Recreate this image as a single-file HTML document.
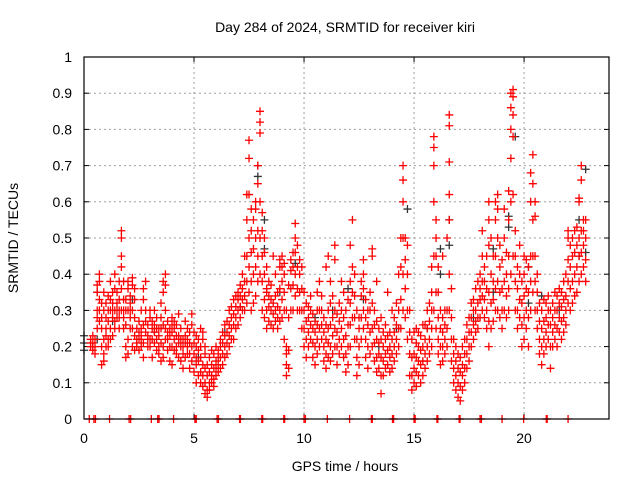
<!DOCTYPE html>
<html><head><meta charset="utf-8"><style>
body{margin:0;background:#fff;}
svg{display:block;font-family:"Liberation Sans",sans-serif;}
</style></head><body>
<svg id="chart" width="640" height="480">
<rect x="0" y="0" width="640" height="480" fill="#fff"/>
<text x="345" y="32" font-size="14" text-anchor="middle">Day 284 of 2024, SRMTID for receiver kiri</text>
<text x="345" y="471" font-size="14" text-anchor="middle">GPS time / hours</text>
<text transform="translate(18,238) rotate(-90)" font-size="14" text-anchor="middle">SRMTID / TECUs</text>
<g id="grid"></g>
<g id="ticks"></g>
<g id="black"></g>
<g id="red"></g>
<rect x="84" y="57" width="525" height="362" fill="none" stroke="#000" stroke-width="1.2"/>
</svg>
<script>
const xTicks=[0,5,10,15,20];
const yTicks=[0,0.1,0.2,0.3,0.4,0.5,0.6,0.7,0.8,0.9,1];
const yTickLabels=["0","0.1","0.2","0.3","0.4","0.5","0.6","0.7","0.8","0.9","1"];
const zeroTimes=[0.24,0.45,0.52,1.16,2.05,2.12,3.06,3.35,3.41,4.07,5.04,5.1,6.05,6.11,7.07,7.11,8.08,8.12,9.08,9.12,10.0,10.06,11.06,12.07,13.06,13.1,14.02,14.07,15.0,15.05,16.04,16.08,17.05,17.09,18.0,18.06,19.0,19.98,21.01,21.05,22.0];
const redCols=[
[0.3,.2,.21,.22],[0.4,.19,.21,.23,.2],[0.5,.18,.22,.2],[0.6,.25,.3,.37,.35,.28],[0.7,.3,.38,.4,.33,.27],[0.8,.15,.2,.25,.28,.32],[0.9,.16,.22,.3,.35,.18],[1.0,.2,.25,.32,.28,.23],[1.1,.22,.3,.34,.27,.2],[1.2,.25,.3,.33,.38,.22],[1.3,.23,.28,.32,.35,.3],[1.4,.27,.3,.36,.4,.25],[1.5,.28,.32,.35,.3],[1.6,.25,.3,.33,.28,.38],[1.7,.42,.45,.5,.52,.36,.3],[1.8,.3,.33,.28,.25,.38],[1.9,.17,.2,.26,.33,.3],[2.0,.18,.22,.3,.36,.38],[2.1,.25,.3,.32,.34,.28],[2.2,.2,.25,.37,.39,.3],[2.3,.19,.23,.28,.33,.36],[2.4,.2,.22,.25,.21],[2.5,.19,.22,.24,.27],[2.6,.2,.23,.25,.3,.22],[2.7,.17,.21,.26,.33,.36],[2.8,.24,.27,.3,.38],[2.9,.2,.23,.26,.22],[3.0,.2,.22,.28,.3],[3.1,.17,.22,.25,.27],[3.2,.21,.24,.26,.3],[3.3,.19,.22,.25,.28],[3.4,.18,.23,.25,.2],[3.5,.16,.21,.25,.28,.32],[3.6,.17,.2,.26,.35,.38],[3.7,.22,.25,.3,.4,.37],[3.8,.19,.22,.24,.27],[3.9,.16,.2,.23,.25],[4.0,.15,.2,.24,.26,.28],[4.1,.19,.22,.25,.27],[4.2,.2,.23,.26,.18],[4.3,.17,.21,.23,.29],[4.4,.16,.2,.22,.25],[4.5,.14,.18,.22,.2],[4.6,.17,.21,.23,.27],[4.7,.18,.22,.25,.2],[4.8,.14,.18,.21,.24],[4.9,.16,.2,.26,.29],
[5.0,.13,.18,.21,.24],[5.1,.1,.15,.2,.23,.17],[5.2,.12,.16,.19,.22],[5.3,.1,.13,.17,.2,.25],[5.4,.09,.12,.15,.22,.24],[5.5,.07,.1,.14,.18,.2],[5.6,.06,.08,.12,.15],[5.7,.08,.1,.13,.17],[5.8,.1,.12,.15,.19],[5.9,.09,.11,.14,.18],[6.0,.12,.14,.16,.2],[6.1,.13,.15,.17,.19],[6.2,.14,.17,.2,.22],[6.3,.15,.18,.21,.24],[6.4,.17,.2,.23,.26],[6.5,.18,.21,.24,.27],[6.6,.2,.23,.26,.3],[6.7,.22,.25,.28,.31],[6.8,.22,.26,.29,.33],[6.9,.25,.28,.31,.34],[7.0,.26,.3,.33,.35],[7.1,.28,.31,.34,.37],[7.2,.3,.33,.36,.4],[7.3,.3,.34,.38,.45],[7.4,.32,.38,.45,.55,.62],[7.5,.35,.42,.5,.62,.72,.77],[7.6,.3,.38,.46,.52,.58],[7.7,.32,.4,.47,.55],[7.8,.34,.42,.5,.58,.6],[7.9,.38,.45,.52,.65,.7],[8.0,.4,.5,.6,.79,.82,.85],[8.1,.3,.38,.45,.52,.57],[8.2,.28,.33,.4,.46,.5],[8.3,.25,.3,.35,.42,.36],[8.4,.27,.31,.34,.38],[8.5,.26,.3,.33,.37],[8.6,.25,.29,.32,.45],[8.7,.27,.3,.34,.4],[8.8,.25,.28,.31,.35],[8.9,.27,.3,.36,.42,.44],[9.0,.28,.33,.38,.42,.45],[9.1,.22,.3,.35,.4,.43],[9.2,.12,.15,.18,.2,.3],[9.3,.14,.19,.28,.37],[9.4,.3,.36,.41,.44],[9.5,.3,.37,.42,.46],[9.6,.34,.4,.46,.5,.54],[9.7,.3,.36,.42,.48],[9.8,.3,.35,.4,.44],[9.9,.25,.3,.36,.42],
[10.0,.2,.25,.3,.35],[10.1,.17,.22,.27,.32],[10.2,.2,.24,.28,.31],[10.3,.22,.26,.3,.34],[10.4,.17,.21,.25,.29],[10.5,.15,.2,.24,.27],[10.6,.18,.22,.26,.3,.35],[10.7,.2,.25,.3,.38],[10.8,.22,.26,.3,.34],[10.9,.16,.2,.24,.28],[11.0,.14,.18,.22,.26,.42],[11.1,.17,.21,.25,.3,.45],[11.2,.16,.2,.26,.32,.38],[11.3,.18,.23,.28,.34],[11.4,.2,.25,.3,.44,.48],[11.5,.15,.2,.24,.29],[11.6,.18,.22,.27,.32],[11.7,.2,.25,.3,.38],[11.8,.17,.22,.28,.35],[11.9,.13,.18,.23,.3],[12.0,.15,.2,.26,.33],[12.1,.2,.26,.32,.38,.48],[12.2,.28,.35,.42,.55],[12.3,.22,.28,.34,.4],[12.4,.12,.17,.22,.3],[12.5,.15,.2,.25,.28],[12.6,.22,.28,.34,.38],[12.7,.25,.3,.36,.4,.44],[12.8,.17,.22,.28,.33],[12.9,.14,.2,.26,.3],[13.0,.18,.24,.3,.35],[13.1,.2,.25,.32,.45,.47],[13.2,.16,.21,.26,.3],[13.3,.13,.17,.22,.27,.38],[13.4,.14,.18,.21,.25],[13.5,.07,.12,.17,.22,.28],[13.6,.12,.16,.2,.24],[13.7,.14,.18,.22,.26],[13.8,.15,.19,.23,.35],[13.9,.13,.17,.2,.24],[14.0,.14,.18,.22,.3],[14.1,.16,.2,.24,.28],[14.2,.18,.22,.26,.32],[14.3,.2,.25,.3,.4],[14.4,.25,.33,.42,.5],[14.5,.3,.4,.5,.6,.66,.7],[14.6,.28,.36,.44,.5],[14.7,.22,.3,.4,.48],[14.8,.12,.18,.24,.3],[14.9,.08,.12,.17,.22],
[15.0,.1,.14,.18,.24],[15.1,.09,.13,.17,.21,.25],[15.2,.12,.16,.2,.24],[15.3,.1,.15,.19,.23],[15.4,.12,.16,.2,.26],[15.5,.14,.18,.22,.26],[15.6,.16,.2,.25,.3],[15.7,.18,.22,.27,.32],[15.8,.2,.25,.3,.35,.42],[15.9,.3,.45,.6,.7,.75,.78],[16.0,.25,.35,.45,.5,.55],[16.1,.18,.22,.28,.35,.42],[16.2,.15,.2,.25,.3],[16.3,.16,.2,.24,.28,.45],[16.4,.18,.22,.26,.3],[16.5,.2,.25,.3,.5],[16.6,.3,.4,.55,.62,.71,.81,.84],[16.7,.16,.22,.28,.36],[16.8,.1,.14,.18,.22],[16.9,.08,.12,.16,.2],[17.0,.06,.1,.14,.18],[17.1,.05,.09,.13,.17],[17.2,.08,.12,.15,.2],[17.3,.1,.14,.18,.22],[17.4,.14,.18,.22,.26],[17.5,.16,.2,.24,.28],[17.6,.2,.24,.28,.32],[17.7,.22,.26,.3,.33],[17.8,.24,.27,.3,.36],[17.9,.25,.28,.32,.38],[18.0,.28,.33,.36,.4],[18.1,.3,.34,.38,.45,.52],[18.2,.28,.33,.38,.42],[18.3,.25,.3,.36,.45],[18.4,.2,.27,.35,.48,.55,.6],[18.5,.25,.32,.4,.5],[18.6,.27,.33,.38,.45],[18.7,.3,.36,.45,.55,.6],[18.8,.3,.38,.5,.58,.62],[18.9,.28,.35,.42,.48],[19.0,.25,.3,.36,.44],[19.1,.3,.38,.5,.58],[19.2,.28,.34,.4,.46],[19.3,.3,.36,.45,.55,.63],[19.4,.4,.6,.72,.8,.86,.9],[19.5,.45,.62,.78,.84,.89,.91],[19.6,.3,.38,.45,.52],[19.7,.25,.3,.36,.42],[19.8,.28,.33,.4,.48],[19.9,.2,.26,.32,.38],
[20.0,.22,.28,.34,.4,.45],[20.1,.25,.3,.36,.44],[20.2,.2,.28,.35,.42],[20.3,.3,.38,.45,.6,.68],[20.4,.35,.45,.55,.65,.73],[20.5,.3,.38,.45,.56,.6],[20.6,.25,.3,.35,.4],[20.7,.18,.22,.27,.32],[20.8,.15,.2,.25,.3],[20.9,.18,.22,.27,.33],[21.0,.2,.24,.28,.32],[21.1,.22,.26,.3,.34],[21.2,.14,.2,.26,.3],[21.3,.2,.24,.28,.32],[21.4,.22,.26,.3,.35],[21.5,.2,.25,.3,.34],[21.6,.24,.28,.32,.36],[21.7,.22,.27,.31,.35],[21.8,.24,.28,.33,.38],[21.9,.26,.3,.34,.4],[22.0,.32,.38,.44,.5,.52],[22.1,.3,.36,.42,.48],[22.2,.32,.38,.45,.5],[22.3,.34,.4,.46,.52],[22.4,.35,.42,.48,.53],[22.5,.38,.45,.5,.6,.61],[22.6,.4,.46,.52,.66,.7],[22.7,.42,.48,.52,.55],[22.8,.38,.44,.5,.55]
];
const blackCols=[
[0.0,.23,.19,.21],[0.6,.22,.35],[1.3,.27],[2.2,.33],[3.2,.24],[4.3,.22],[5.2,.17],[6.4,.24],[7.1,.31],[7.9,.7,.67],[8.2,.55,.47],[8.9,.35],[9.6,.43],[10.5,.28],[11.3,.3],[12.0,.36],[12.7,.33],[13.4,.2],[14.2,.25],[14.7,.58],[15.6,.25],[16.2,.4,.47],[16.6,.48,.55],[17.7,.28],[18.6,.35,.47],[19.3,.53,.56],[19.6,.78],[20.2,.42,.32],[20.8,.34],[21.6,.3],[22.5,.45,.55],[22.8,.46,.69]
];
const NS="http://www.w3.org/2000/svg";
const X0=84,X1=609,Y0=419,Y1=57,XMAX=23.86;
function xs(t){return X0+t*(X1-X0)/XMAX;}
function ys(v){return Y0-v*(Y0-Y1);}
function mk(tag,attrs,parent){const e=document.createElementNS(NS,tag);for(const k in attrs)e.setAttribute(k,attrs[k]);parent.appendChild(e);return e;}
const grid=document.getElementById('grid'),ticks=document.getElementById('ticks');
yTicks.forEach((v,i)=>{
  const y=ys(v);
  if(i>0&&i<yTicks.length-1){const g=mk('line',{x1:X0,x2:X1,y1:y,y2:y,stroke:'#a0a0a0','stroke-dasharray':'2,3'},grid);
  
  }
  mk('line',{x1:X0,x2:X0+5,y1:y,y2:y,stroke:'#000'},ticks);
  mk('line',{x1:X1-5,x2:X1,y1:y,y2:y,stroke:'#000'},ticks);
  const t=mk('text',{x:X0-12,y:y+5,'font-size':14,'text-anchor':'end'},ticks);
  t.textContent=yTickLabels[i];
  
  
});
xTicks.forEach(v=>{
  const x=xs(v);
  if(v>0){const g=mk('line',{x1:x,x2:x,y1:Y1,y2:Y0,stroke:'#a0a0a0','stroke-dasharray':'2,3'},grid);
  
  }
  mk('line',{x1:x,x2:x,y1:Y0,y2:Y0-5,stroke:'#000'},ticks);
  mk('line',{x1:x,x2:x,y1:Y1,y2:Y1+5,stroke:'#000'},ticks);
  const t=mk('text',{x:x,y:Y0+24,'font-size':14,'text-anchor':'middle'},ticks);
  t.textContent=String(v);
  
  
});
function plus(parent,t,v,color){
  const x=xs(t),y=ys(v);
  const p=mk('path',{d:`M${x-4},${y}H${x+4}M${x},${y-4}V${y+4}`,stroke:color,'stroke-width':1.3,fill:'none'},parent);
  
  
}
const bg=document.getElementById('black'),rg=document.getElementById('red');
blackCols.forEach(c=>{for(let i=1;i<c.length;i++)plus(bg,c[0],c[i],'#333');});
redCols.forEach(c=>{for(let i=1;i<c.length;i++)plus(rg,c[0],c[i],'#ff0000');});
zeroTimes.forEach(t=>plus(rg,t,0,'#ff0000'));
</script>
</body></html>
